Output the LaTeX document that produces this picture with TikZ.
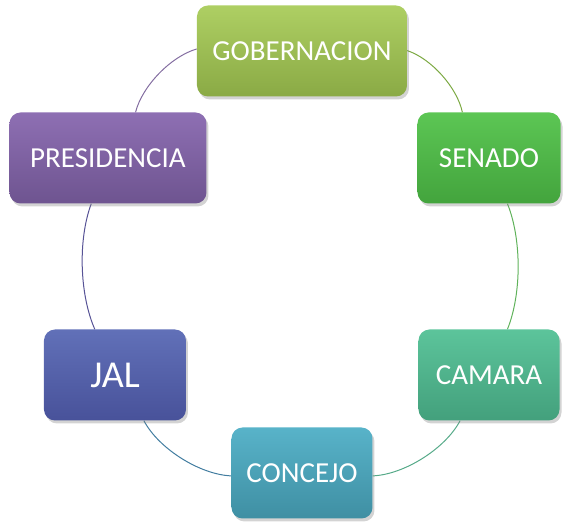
\documentclass[tikz,border=0pt]{standalone}
\usepackage{fontspec}
\setmainfont{Carlito}
\usetikzlibrary{shadows,backgrounds}

\definecolor{gobtop}{HTML}{AECF63}
\definecolor{gobbot}{HTML}{8AAA45}
\definecolor{sentop}{HTML}{5CC654}
\definecolor{senbot}{HTML}{43A43D}
\definecolor{camtop}{HTML}{5CC49B}
\definecolor{cambot}{HTML}{43A07C}
\definecolor{contop}{HTML}{58B3C9}
\definecolor{conbot}{HTML}{3F8FA3}
\definecolor{jaltop}{HTML}{6170B8}
\definecolor{jalbot}{HTML}{48529A}
\definecolor{prestop}{HTML}{8E6FB3}
\definecolor{presbot}{HTML}{6E5490}

\begin{document}
\begin{tikzpicture}[
  x=1pt, y=1pt,
  box/.style={rectangle, rounded corners=11pt, text=white, align=center,
    minimum height=91pt, font=\fontsize{29}{34}\selectfont,
    drop shadow={opacity=0.35, shadow xshift=2pt, shadow yshift=-3pt}},
  link/.style={line width=1pt, bend left=30, looseness=0.78}
]
\useasboundingbox (-300,-269) rectangle (268,263);

\node[box, minimum width=210pt, top color=gobtop, bottom color=gobbot] (gob) at (2,212) {GOBERNACION};
\node[box, minimum width=143pt, top color=sentop, bottom color=senbot] (sen) at (189,105) {SENADO};
\node[box, minimum width=141pt, top color=camtop, bottom color=cambot] (cam) at (189,-112) {CAMARA};
\node[box, minimum width=141pt, top color=contop, bottom color=conbot] (con) at (2,-210) {CONCEJO};
\node[box, minimum width=142pt, top color=jaltop, bottom color=jalbot, font=\fontsize{38}{44}\selectfont] (jal) at (-185,-112) {JAL};
\node[box, minimum width=197pt, top color=prestop, bottom color=presbot] (pres) at (-192,105) {PRESIDENCIA};

% aros entre las cajas
\begin{scope}[on background layer]
\draw[link, draw=gobbot!80!senbot] (gob) to (sen);
\draw[link, bend left=22, draw=senbot!85!white] (sen) to (cam);
\draw[link, draw=cambot!90!white] (cam) to (con);
\draw[link, draw=conbot!70!jalbot] (con) to (jal);
\draw[link, bend left=22, draw=jalbot!60!presbot] (jal) to (pres);
\draw[link, draw=presbot!85!white] (pres) to (gob);
\end{scope}
\end{tikzpicture}
\end{document}
